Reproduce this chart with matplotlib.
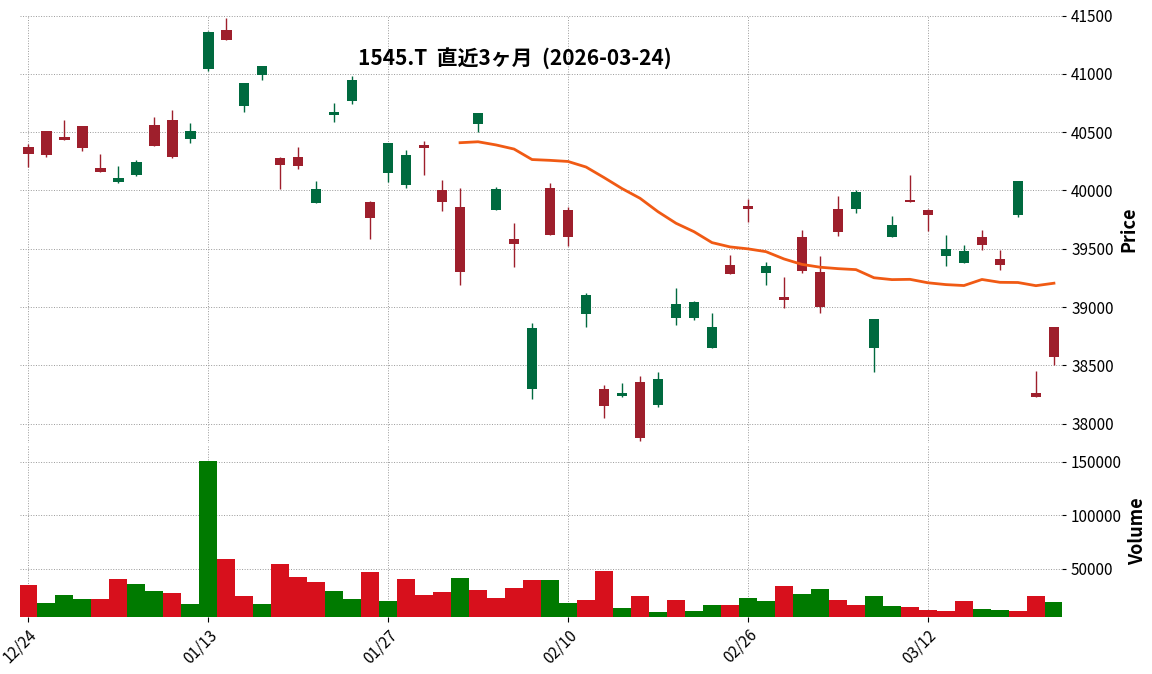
import matplotlib
matplotlib.use("Agg")
import matplotlib.pyplot as plt
import numpy as np
import pandas as pd

plt.rcParams['font.family'] = ['Noto Sans CJK JP', 'DejaVu Sans']

dates = ["12/24","12/25","12/26","12/29","12/30","01/05","01/06","01/07","01/08","01/09",
         "01/13","01/14","01/15","01/16","01/19","01/20","01/21","01/22","01/23","01/26",
         "01/27","01/28","01/29","01/30","02/02","02/03","02/04","02/05","02/06","02/09",
         "02/10","02/12","02/13","02/16","02/17","02/18","02/19","02/20","02/24","02/25",
         "02/26","02/27","03/02","03/03","03/04","03/05","03/06","03/09","03/10","03/11",
         "03/12","03/13","03/16","03/17","03/18","03/19","03/23","03/24"]
opens = [40310,40300,40430,40360,40160,40110,40240,40385,40290,40510,
         41360,41290,40920,41070,40220,40210,40015,40670,40950,39760,
         40410,40300,40360,39900,39300,40660,40015,39540,38820,39620,
         39600,39100,38150,38260,37880,38380,39030,39040,38830,39280,
         39840,39350,39060,39310,39000,39640,39990,38900,39700,39900,
         39790,39500,39480,39530,39360,40080,38230,38570]
closes = [40370,40510,40460,40550,40190,40070,40130,40560,40600,40440,
          41040,41380,40720,40990,40280,40290,39890,40650,40770,39900,
          40150,40050,40390,40000,39860,40570,39830,39580,38300,40020,
          39830,38940,38300,38240,38360,38160,38910,38910,38650,39360,
          39870,39290,39090,39600,39300,39840,39840,38650,39600,39920,
          39830,39440,39380,39600,39410,39790,38260,38830]
highs = [40400,40510,40600,40550,40310,40210,40260,40630,40690,40580,
         41370,41480,40920,41070,40290,40370,40080,40750,40980,39910,
         40410,40350,40420,40090,40020,40660,40030,39720,38860,40060,
         39860,39120,38330,38350,38410,38440,39160,39050,38950,39450,
         39930,39390,39260,39660,39440,39950,40000,38900,39780,40130,
         39840,39620,39530,39660,39490,40080,38450,38830]
lows = [40200,40290,40430,40340,40160,40060,40120,40380,40280,40410,
        41020,41290,40670,40950,40010,40180,39890,40590,40740,39580,
        40070,40020,40130,39820,39190,40500,39830,39340,38210,39620,
        39520,38830,38050,38230,37850,38140,38850,38890,38650,39280,
        39730,39190,38990,39290,38950,39610,39810,38440,39600,39900,
        39650,39350,39380,39490,39320,39770,38230,38500]
volumes = [35000,18200,25700,22000,22000,40700,36000,29400,27600,17300,
           151000,59300,24800,17300,54700,42500,37900,29400,22000,47200,
           20100,40700,25700,28500,41600,30400,22900,32000,39700,39700,
           18200,21000,48100,13600,24800,9800,21000,10700,16400,16400,
           22900,20100,34100,26600,31300,21000,16400,24800,15400,14500,
           11700,10700,20100,12600,11700,10700,24800,19100]
vol_dir = list("uddduuddudduuduuudduduuuduuuudduudududduddudduudduuuudduud")
ma_window = 25
title = "1545.T  直近3ヶ月  (2026-03-24)"

n = len(dates)
x = np.arange(n)
o = np.array(opens); c = np.array(closes); h = np.array(highs); l = np.array(lows)
up_c, dn_c = '#9e1f2c', '#006a3f'
vup, vdn = '#d7101c', '#007a00'

fig = plt.figure(figsize=(11.52, 6.74), dpi=100)
ax = fig.add_axes([0.0174, 0.343, 0.9045, 0.634])
axv = fig.add_axes([0.0174, 0.085, 0.9045, 0.255], sharex=ax)

for i in range(n):
    col = up_c if c[i] >= o[i] else dn_c
    ax.vlines(x[i], l[i], h[i], color=col, lw=1, zorder=3)
    lo, hi = min(o[i], c[i]), max(o[i], c[i])
    ax.bar(x[i], max(hi - lo, 15), bottom=lo, width=0.6, color=col, zorder=4)
ma = pd.Series(c).rolling(ma_window).mean()
ax.plot(x, ma, color='#f05a14', lw=2, zorder=5)

vc = [vup if d == 'u' else vdn for d in vol_dir]
axv.bar(x, volumes, width=1.0, color=vc, zorder=3)

for a in (ax, axv):
    for s in a.spines.values():
        s.set_visible(False)
    a.grid(True, color='#999999', ls=':', lw=0.7, zorder=0)
    a.yaxis.tick_right()
    a.yaxis.set_label_position('right')
    a.tick_params(axis='y', labelsize=11, length=3)
ax.set_xlim(-0.45, n - 0.55)
ax.set_ylim(37837, 41500)
ax.set_yticks(np.arange(38000, 41501, 500))
ax.set_ylabel('Price', fontsize=13, fontweight='bold')
ax.tick_params(axis='x', labelbottom=False, length=0)
ax.text(0.475, 0.9, title, transform=ax.transAxes, ha='center', va='center',
        fontsize=15, fontweight='bold')

axv.set_ylim(5000, 165900)
axv.set_yticks([50000, 100000, 150000])
axv.set_ylabel('Volume', fontsize=13, fontweight='bold')
tick_idx = [0, 10, 20, 30, 40, 50]
axv.set_xticks(tick_idx)
axv.set_xticklabels([dates[i] for i in tick_idx], rotation=45, ha='right',
                    rotation_mode='anchor', fontsize=11)

fig.savefig('out.png', dpi=100)
